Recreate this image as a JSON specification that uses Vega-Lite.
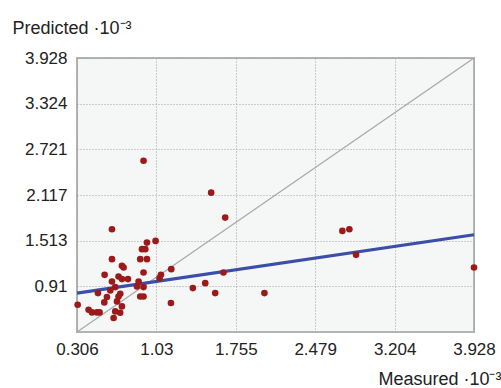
{
  "$schema": "https://vega.github.io/schema/vega-lite/v6.json",
  "width": 397,
  "height": 274,
  "autosize": {"type": "none"},
  "padding": {"left": 77, "top": 58, "right": 27, "bottom": 56},
  "background": "white",
  "config": {
    "view": {"fill": "#f5f7f7", "stroke": "#b4b4b4", "strokeWidth": 2},
    "font": "Liberation Sans"
  },
  "datasets": {
    "points": [
      {"measured": 0.913, "predicted": 2.570},
      {"measured": 1.530, "predicted": 2.148},
      {"measured": 1.658, "predicted": 1.818},
      {"measured": 0.625, "predicted": 1.665},
      {"measured": 2.727, "predicted": 1.642},
      {"measured": 2.791, "predicted": 1.665},
      {"measured": 1.023, "predicted": 1.510},
      {"measured": 0.944, "predicted": 1.488},
      {"measured": 0.899, "predicted": 1.401},
      {"measured": 0.929, "predicted": 1.401},
      {"measured": 0.883, "predicted": 1.269},
      {"measured": 0.944, "predicted": 1.269},
      {"measured": 0.625, "predicted": 1.269},
      {"measured": 0.716, "predicted": 1.181},
      {"measured": 0.731, "predicted": 1.158},
      {"measured": 2.852, "predicted": 1.326},
      {"measured": 3.928, "predicted": 1.158},
      {"measured": 1.166, "predicted": 1.137},
      {"measured": 1.072, "predicted": 1.062},
      {"measured": 1.059, "predicted": 1.018},
      {"measured": 0.558, "predicted": 1.062},
      {"measured": 0.913, "predicted": 1.092},
      {"measured": 1.642, "predicted": 1.092},
      {"measured": 0.685, "predicted": 1.040},
      {"measured": 0.716, "predicted": 1.005},
      {"measured": 0.771, "predicted": 1.005},
      {"measured": 0.625, "predicted": 0.974},
      {"measured": 0.868, "predicted": 0.974},
      {"measured": 1.476, "predicted": 0.952},
      {"measured": 1.363, "predicted": 0.886},
      {"measured": 0.853, "predicted": 0.908},
      {"measured": 0.913, "predicted": 0.900},
      {"measured": 0.655, "predicted": 0.900},
      {"measured": 0.610, "predicted": 0.855},
      {"measured": 0.497, "predicted": 0.820},
      {"measured": 1.567, "predicted": 0.820},
      {"measured": 2.016, "predicted": 0.820},
      {"measured": 0.701, "predicted": 0.811},
      {"measured": 0.685, "predicted": 0.776},
      {"measured": 0.883, "predicted": 0.776},
      {"measured": 0.913, "predicted": 0.776},
      {"measured": 0.579, "predicted": 0.768},
      {"measured": 0.555, "predicted": 0.697},
      {"measured": 1.163, "predicted": 0.689},
      {"measured": 0.312, "predicted": 0.666},
      {"measured": 0.671, "predicted": 0.710},
      {"measured": 0.716, "predicted": 0.644},
      {"measured": 0.412, "predicted": 0.600},
      {"measured": 0.443, "predicted": 0.565},
      {"measured": 0.488, "predicted": 0.565},
      {"measured": 0.512, "predicted": 0.565},
      {"measured": 0.655, "predicted": 0.578},
      {"measured": 0.640, "predicted": 0.491},
      {"measured": 0.700, "predicted": 0.560}
    ],
    "diagonal": [
      {"measured": 0.306, "predicted": 0.306},
      {"measured": 3.928, "predicted": 3.928}
    ],
    "fit": [
      {"measured": 0.306, "predicted": 0.82},
      {"measured": 3.928, "predicted": 1.592}
    ]
  },
  "layer": [
    {
      "data": {"name": "diagonal"},
      "mark": {"type": "line", "color": "#a9a9a9", "strokeWidth": 1.3},
      "encoding": {
        "x": {
          "field": "measured", "type": "quantitative",
          "scale": {"domain": [0.306, 3.928], "nice": false, "zero": false},
          "axis": {
            "values": [0.306, 1.03, 1.755, 2.479, 3.204, 3.928],
            "labelExpr": "'' + datum.value",
            "domain": false, "ticks": false,
            "grid": true, "gridColor": "#a0a0a0", "gridDash": [1, 2], "gridWidth": 1,
            "labelFontSize": 17, "labelColor": "#222222", "labelPadding": 9,
            "labelFlush": false,
            "title": "Measured ·10⁻³",
            "titleFontSize": 18, "titleFontWeight": "normal", "titleColor": "#222222",
            "titleAnchor": "end", "titleAlign": "right", "titleBaseline": "alphabetic",
            "titleX": 424, "titleY": 52
          }
        },
        "y": {
          "field": "predicted", "type": "quantitative",
          "scale": {"domain": [0.306, 3.928], "nice": false, "zero": false},
          "axis": {
            "values": [0.91, 1.513, 2.117, 2.721, 3.324, 3.928],
            "labelExpr": "'' + datum.value",
            "domain": false, "ticks": false,
            "grid": true, "gridColor": "#a0a0a0", "gridDash": [1, 2], "gridWidth": 1,
            "labelFontSize": 17, "labelColor": "#222222", "labelPadding": 10,
            "labelFlush": false,
            "title": "Predicted ·10⁻³",
            "titleFontSize": 18, "titleFontWeight": "normal", "titleColor": "#222222",
            "titleAngle": 0, "titleAnchor": "start", "titleAlign": "left", "titleBaseline": "alphabetic",
            "titleX": -65, "titleY": -25
          }
        }
      }
    },
    {
      "data": {"name": "fit"},
      "mark": {"type": "line", "color": "#3b4ea8", "strokeWidth": 3.2},
      "encoding": {
        "x": {"field": "measured", "type": "quantitative"},
        "y": {"field": "predicted", "type": "quantitative"}
      }
    },
    {
      "data": {"name": "points"},
      "mark": {"type": "point", "shape": "circle", "filled": true, "size": 44, "color": "#9c1a1a", "opacity": 1},
      "encoding": {
        "x": {"field": "measured", "type": "quantitative"},
        "y": {"field": "predicted", "type": "quantitative"}
      }
    }
  ]
}
